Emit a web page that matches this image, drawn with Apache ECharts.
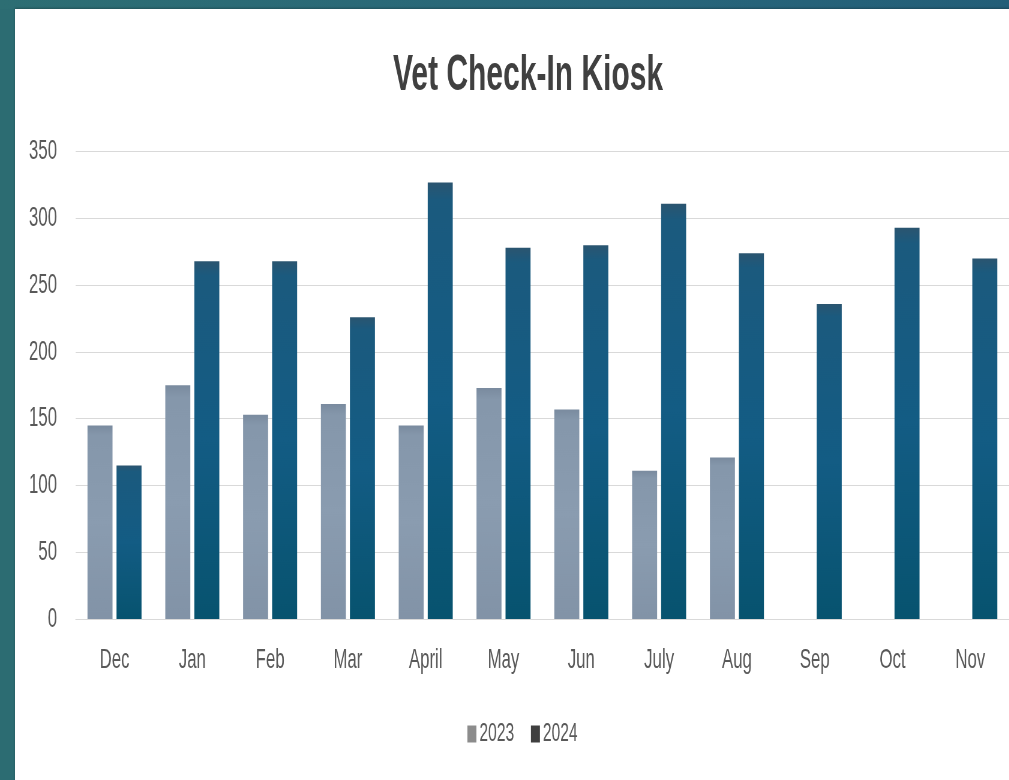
<!DOCTYPE html>
<html>
<head>
<meta charset="utf-8">
<script src="https://cdn.jsdelivr.net/npm/echarts@6/dist/echarts.min.js"></script>
<style>
  html, body { margin: 0; padding: 0; width: 1009px; height: 780px; overflow: hidden; background: #2c6c72; }
  #topbar { position: absolute; left: 0; top: 0; width: 1009px; height: 9px; background: linear-gradient(90deg, #2d6e73 0%, #28667a 60%, #235e78 100%); }
  #panel { position: absolute; left: 15px; top: 9px; width: 1010px; height: 790px; background: #ffffff; box-shadow: 0 -1px 2px rgba(0,0,0,0.25); }
  #chart { position: absolute; left: 0; top: 0; width: 1681.67px; height: 780px; transform: scaleX(0.6); transform-origin: 0 0; }
</style>
</head>
<body>
<div id="topbar"></div>
<div id="panel"></div>
<div id="chart"></div>
<script>
const categories = ['Dec', 'Jan', 'Feb', 'Mar', 'April', 'May', 'Jun', 'July', 'Aug', 'Sep', 'Oct', 'Nov'];
const values2023 = [145, 175, 153, 161, 145, 173, 157, 111, 121, null, null, null];
const values2024 = [115, 268, 268, 226, 327, 278, 280, 311, 274, 236, 293, 270];
const yTicks = [0, 50, 100, 150, 200, 250, 300, 350];

const chart = echarts.init(document.getElementById('chart'), null, { renderer: 'canvas' });
const FONT = '"Liberation Sans", Arial, sans-serif';

function vGrad(stops) {
  return new echarts.graphic.LinearGradient(0, 0, 0, 1,
    stops.map(function (s) { return { offset: s[0], color: s[1] }; }));
}

chart.setOption({
  animation: false,
  backgroundColor: 'transparent',
  title: {
    text: 'Vet Check-In Kiosk',
    left: 650,
    top: 46,
    textStyle: { fontFamily: FONT, fontSize: 50, fontWeight: 'bold', color: '#404040' }
  },
  legend: {
    left: 774,
    top: 716,
    itemWidth: 15,
    itemHeight: 17,
    itemGap: 28,
    icon: 'rect',
    textStyle: { fontFamily: FONT, fontSize: 26, color: '#595959' },
    data: [
      { name: '2023', itemStyle: { color: '#8c8c8c' } },
      { name: '2024', itemStyle: { color: '#3f3f3f' } }
    ]
  },
  grid: { left: 126, top: 151.7, width: 1557, height: 467.3, containLabel: false },
  xAxis: {
    type: 'category',
    data: categories,
    axisLine: { show: true, lineStyle: { color: '#d9d9d9', width: 1 } },
    axisTick: { show: false },
    axisLabel: { fontFamily: FONT, fontSize: 28, color: '#595959', margin: 27 }
  },
  yAxis: {
    type: 'value',
    min: yTicks[0],
    max: yTicks[yTicks.length - 1],
    interval: 50,
    axisLine: { show: false },
    axisTick: { show: false },
    splitLine: { lineStyle: { color: '#d9d9d9', width: 1 } },
    axisLabel: { fontFamily: FONT, fontSize: 28, color: '#595959', margin: 31 }
  },
  series: [
    {
      name: '2023',
      type: 'bar',
      data: values2023,
      barWidth: 41.7,
      barGap: '16%',
      itemStyle: { color: vGrad([[0, '#7a8b9f'], [0.05, '#8597ab'], [0.5, '#8a9cb0'], [1, '#8293a7']]) }
    },
    {
      name: '2024',
      type: 'bar',
      data: values2024,
      barWidth: 41.7,
      itemStyle: { color: vGrad([[0, '#2b5570'], [0.04, '#1b5a7e'], [0.5, '#135c84'], [1, '#07536f']]) }
    }
  ]
});
</script>
</body>
</html>
